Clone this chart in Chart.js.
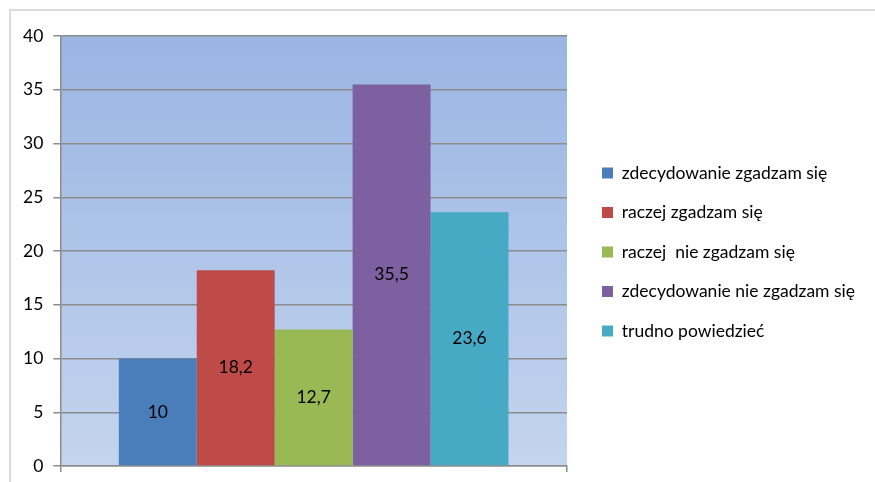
<!DOCTYPE html>
<html><head><meta charset="utf-8">
<script src="https://cdn.jsdelivr.net/npm/chart.js@4.4.1/dist/chart.umd.min.js"></script>
<style>
html,body{margin:0;padding:0;background:#fff;overflow:hidden;width:875px;height:482px;}
#frame{position:absolute;left:9px;top:9px;width:1000px;height:1000px;border-top:2px solid #dcdcdc;border-left:2px solid #dcdcdc;}
#wrap{position:absolute;left:0;top:0;width:875px;height:482px;}
</style></head>
<body>
<div id="frame"></div>
<div id="wrap"><canvas id="c" width="875" height="482"></canvas></div>
<script>
const categories = [''];
const seriesNames = ['zdecydowanie zgadzam się','raczej zgadzam się','raczej  nie zgadzam się','zdecydowanie nie zgadzam się','trudno powiedzieć'];
const seriesValues = [10, 18.2, 12.7, 35.5, 23.6];
const seriesColors = ['#4a7ebb','#be4b48','#98b954','#7d60a0','#46aac5'];
const yTicks = [0,5,10,15,20,25,30,35,40];

const FONT = 'Lato, "Open Sans", sans-serif';

const bgPlugin = {
  id:'bg',
  afterLayout(chart){
    const lg = chart.legend;
    if(lg){
      const dx = 580 - lg.left; lg.left += dx; lg.right += dx;
      lg.top -= 2; lg.bottom -= 2;
    }
  },
  beforeDraw(chart){
    const {ctx, chartArea:a} = chart;
    const g = ctx.createLinearGradient(0,a.top,0,a.bottom);
    g.addColorStop(0,'#9ab5e3');
    g.addColorStop(1,'#c4d4ee');
    ctx.save(); ctx.fillStyle=g; ctx.fillRect(a.left,a.top,a.right-a.left,a.bottom-a.top); ctx.restore();
  }
};
const labelPlugin = {
  id:'vals',
  afterDatasetsDraw(chart){
    const ctx = chart.ctx;
    ctx.save();
    ctx.font = '17.5px ' + FONT;
    ctx.fillStyle = '#000';
    ctx.textAlign='center'; ctx.textBaseline='middle';
    chart.data.datasets.forEach((ds,i)=>{
      chart.getDatasetMeta(i).data.forEach((bar,j)=>{
        const v = ds.data[j];
        const yMid = (bar.y + bar.base)/2;
        ctx.fillText(String(v).replace('.',','), bar.x, yMid);
      });
    });
    ctx.restore();
  }
};

new Chart(document.getElementById('c'),{
  type:'bar',
  data:{
    labels:categories,
    datasets:seriesNames.map((n,i)=>({label:n,data:[seriesValues[i]],backgroundColor:seriesColors[i],borderWidth:0,categoryPercentage:0.769,barPercentage:1}))
  },
  options:{
    responsive:false,animation:false,
    layout:{padding:{top:36,left:13,right:23,bottom:10}},
    plugins:{
      legend:{position:'right',align:'center',maxWidth:400,
        labels:{font:{family:FONT,size:17.5},color:'#000',boxWidth:11,boxHeight:11,padding:22}},
      tooltip:{enabled:false}
    },
    scales:{
      x:{grid:{display:true,drawOnChartArea:false,color:'#8c8c8c',lineWidth:1.5,tickLength:6,offset:true},
         border:{color:'#8c8c8c',width:1.5},ticks:{display:false}},
      y:{min:0,max:40,
         afterBuildTicks(ax){ax.ticks=yTicks.map(v=>({value:v}));},
         afterFit(ax){ax.paddingBottom = 6; ax.paddingTop = 6;},
         grid:{color:'#8c8c8c',lineWidth:1.5,tickLength:7},
         border:{color:'#8c8c8c',width:1.5},
         ticks:{font:{family:FONT,size:17.5},color:'#000',padding:10}}
    }
  },
  plugins:[bgPlugin,labelPlugin]
});
</script>
</body></html>
